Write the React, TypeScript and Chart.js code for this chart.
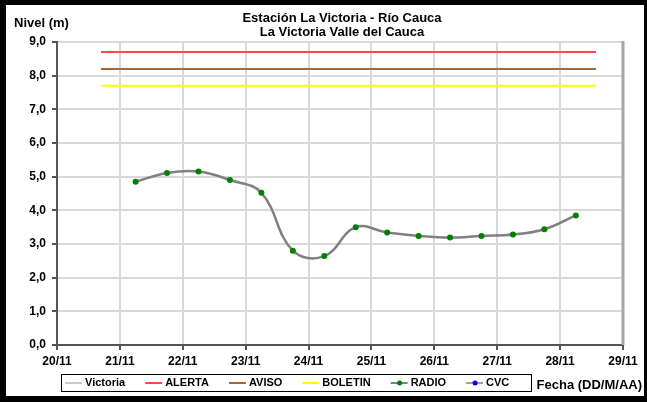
import { useEffect, useRef } from 'react';
import { Chart, registerables } from 'chart.js';

Chart.register(...registerables);

const titleLines = ['Estación La Victoria - Río Cauca', 'La Victoria Valle del Cauca'];
const yAxisTitle = 'Nivel (m)';
const xAxisTitle = 'Fecha (DD/M/AA)';
const xTickLabels = ['20/11', '21/11', '22/11', '23/11', '24/11', '25/11', '26/11', '27/11', '28/11', '29/11'];

// days since 20/11 00:00
const radioX = [1.25, 1.75, 2.25, 2.75, 3.25, 3.75, 4.25, 4.75, 5.25, 5.75, 6.25, 6.75, 7.25, 7.75, 8.25];
const radioY = [4.85, 5.11, 5.15, 4.9, 4.52, 2.8, 2.64, 3.5, 3.34, 3.24, 3.19, 3.24, 3.28, 3.44, 3.85];

const thresholdX = [0.7, 8.57];
const alertaY = [8.7, 8.7];
const avisoY = [8.2, 8.2];
const boletinY = [7.7, 7.7];

const seriesNames = ['Victoria', 'ALERTA', 'AVISO', 'BOLETIN', 'RADIO', 'CVC'];

const FONT = '"Liberation Sans", Arial, sans-serif';

const pts = (xs: number[], ys: number[]) => xs.map((x, i) => ({ x, y: ys[i] }));

export default function App() {
  const ref = useRef<HTMLCanvasElement | null>(null);

  useEffect(() => {
    if (!ref.current) return;

    const decor = {
      id: 'decor',
      afterDraw(chart: any) {
        const ctx = chart.ctx as CanvasRenderingContext2D;
        const ca = chart.chartArea;
        ctx.save();
        // right border of plot
        ctx.strokeStyle = '#a6a6a6';
        ctx.lineWidth = 3;
        ctx.beginPath();
        ctx.moveTo(ca.right, ca.top - 1);
        ctx.lineTo(ca.right, ca.bottom);
        ctx.stroke();

        // titles
        ctx.fillStyle = '#000';
        ctx.textBaseline = 'middle';
        ctx.font = `bold 13px ${FONT}`;
        ctx.textAlign = 'center';
        ctx.fillText(titleLines[0], 336, 13);
        ctx.fillText(titleLines[1], 336, 27);
        ctx.textAlign = 'left';
        ctx.fillText(yAxisTitle, 8, 18);
        ctx.textAlign = 'right';
        ctx.fillText(xAxisTitle, 636, 380);
        ctx.textAlign = 'left';

        // legend box
        ctx.strokeStyle = '#000';
        ctx.lineWidth = 1;
        ctx.strokeRect(55.5, 369.5, 470, 17);

        // legend items
        ctx.font = `bold 11px ${FONT}`;
        let x = 59;
        const cy = 378;
        chart.data.datasets.forEach((ds: any) => {
          ctx.strokeStyle = ds.borderColor;
          ctx.lineWidth = 2;
          ctx.beginPath();
          ctx.moveTo(x, cy);
          ctx.lineTo(x + 17, cy);
          ctx.stroke();
          if (ds.pointRadius > 0) {
            ctx.fillStyle = ds.pointBackgroundColor;
            ctx.beginPath();
            ctx.arc(x + 9, cy, 2.5, 0, Math.PI * 2);
            ctx.fill();
          }
          ctx.fillStyle = '#000';
          ctx.fillText(ds.label, x + 20, cy);
          x += 20 + ctx.measureText(ds.label).width + 20;
        });
        ctx.restore();
      },
    };

    const chart = new Chart(ref.current, {
      type: 'line',
      data: {
        datasets: [
          { label: seriesNames[0], data: [], borderColor: '#c8c8c8', pointRadius: 0, borderWidth: 2 },
          { label: seriesNames[1], data: pts(thresholdX, alertaY), borderColor: '#ff4545', pointRadius: 0, borderWidth: 2 },
          { label: seriesNames[2], data: pts(thresholdX, avisoY), borderColor: '#a0693e', pointRadius: 0, borderWidth: 2 },
          { label: seriesNames[3], data: pts(thresholdX, boletinY), borderColor: '#ffff00', pointRadius: 0, borderWidth: 2 },
          {
            label: seriesNames[4],
            data: pts(radioX, radioY),
            borderColor: '#808080',
            borderWidth: 2.5,
            pointRadius: 3,
            pointBackgroundColor: '#008000',
            pointBorderColor: '#008000',
            pointBorderWidth: 0,
            tension: 0.4,
          },
          {
            label: seriesNames[5],
            data: [],
            borderColor: '#a0a0a0',
            borderWidth: 2,
            pointRadius: 3,
            pointBackgroundColor: '#0000ff',
          },
        ],
      } as any,
      plugins: [decor],
      options: {
        animation: false,
        responsive: false,
        devicePixelRatio: 1,
        layout: { padding: { left: 0, top: 37, right: 21, bottom: 31 } },
        plugins: { legend: { display: false }, tooltip: { enabled: false }, title: { display: false } },
        scales: {
          x: {
            type: 'linear',
            min: 0,
            max: 9,
            ticks: {
              stepSize: 1,
              autoSkip: false,
              maxRotation: 0,
              padding: 4,
              color: '#000',
              font: { family: FONT, size: 12, weight: 'bold' },
              callback: (v: any) => xTickLabels[v] ?? '',
            },
            grid: { color: '#d9d9d9', lineWidth: 2, tickLength: 5, tickColor: '#555' },
            border: { color: '#555', width: 2 },
            afterFit: (s: any) => {
              s.height = 20;
            },
          },
          y: {
            min: 0,
            max: 9,
            ticks: {
              stepSize: 1,
              padding: 6,
              color: '#000',
              font: { family: FONT, size: 12, weight: 'bold' },
              callback: (v: any) => Number(v).toFixed(1).replace('.', ','),
            },
            grid: { color: '#d9d9d9', lineWidth: 2, tickLength: 5, tickColor: '#555' },
            border: { color: '#555', width: 2 },
            afterFit: (s: any) => {
              s.width = 51;
            },
          },
        },
      } as any,
    });
    return () => chart.destroy();
  }, []);

  return (
    <div
      style={{
        position: 'absolute',
        left: 0,
        top: 0,
        width: 647,
        height: 402,
        boxSizing: 'border-box',
        borderStyle: 'solid',
        borderColor: '#000',
        borderTopWidth: 5,
        borderLeftWidth: 6,
        borderBottomWidth: 6,
        borderRightWidth: 3,
        background: '#fff',
      }}
    >
      <canvas ref={ref} width={638} height={391} style={{ display: 'block' }} />
    </div>
  );
}
